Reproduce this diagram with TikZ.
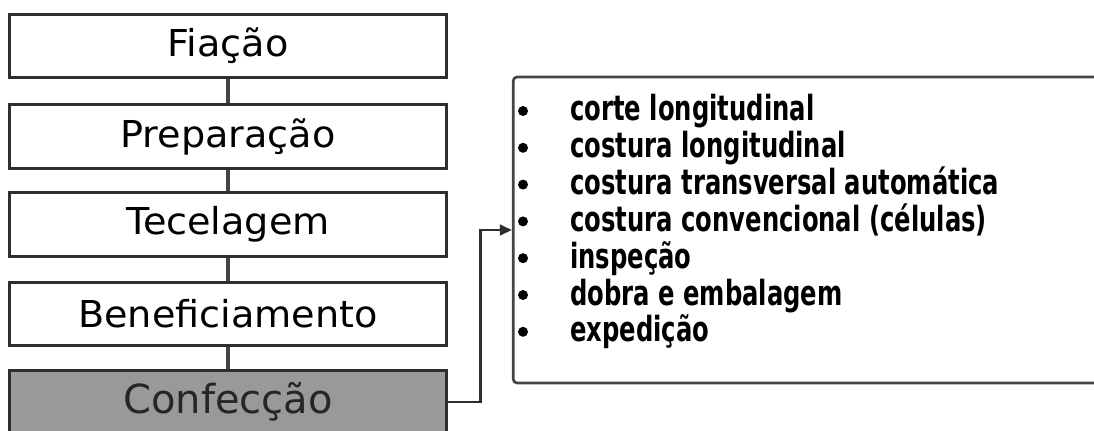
\documentclass[tikz,border=0pt]{standalone}
\usepackage{xcolor}
\usepackage{fontspec}
\usepackage{tikz}
\usetikzlibrary{arrows.meta}

\setmainfont{DejaVu Sans}
\newfontfamily\boxfont[FakeStretch=1.03]{DejaVu Sans}
\newfontfamily\listfont[FakeStretch=0.70]{DejaVu Sans}

\definecolor{edgegray}{HTML}{2E2E2E}
\definecolor{linkgray}{HTML}{444444}
\definecolor{activegray}{HTML}{999999}

\tikzset{
  stage/.style={draw=edgegray, line width=2.3pt, fill=white,
    minimum width=328pt, minimum height=47.5pt, inner sep=0pt,
    font=\boxfont\fontsize{27.8}{33}\selectfont},
  link/.style={draw=linkgray, line width=2.4pt},
  item/.style={anchor=base west, inner sep=0pt,
    font=\listfont\bfseries\fontsize{26}{31}\selectfont},
  dot/.style={circle, fill=black, inner sep=0pt, minimum size=7.5pt}
}

\begin{document}
\begin{tikzpicture}[x=0.75pt, y=-0.75pt]

    % Frame
    \useasboundingbox (0, 0) rectangle (1094, 431);

    % Stages
    \node[stage] (fiacao) at (228, 46) {Fiação};
    \node[stage] (preparacao) at (228, 136.5) {Preparação};
    \node[stage] (tecelagem) at (228, 224.5) {Tecelagem};
    \node[stage] (beneficiamento) at (228, 314) {Beneficiamento};
    \node[stage, fill=activegray, text=black!85,
      font=\fontsize{30}{36}\selectfont] (confeccao) at (228, 402) {Confecção};

    % Links
    \draw[link] (fiacao) -- (preparacao);
    \draw[link] (preparacao) -- (tecelagem);
    \draw[link] (tecelagem) -- (beneficiamento);
    \draw[link] (beneficiamento) -- (confeccao);

    % Steps
    \node[draw=linkgray, line width=2pt, rounded corners=3pt,
      minimum width=455pt, minimum height=229.5pt, inner sep=0pt]
      (etapas) at (816.5, 230) {};

    \draw[edgegray, line width=2.2pt, -{Triangle[length=9pt, width=8pt]}]
      (confeccao.east) -- ++(32, 0) |- (etapas.west);

    \foreach \n/\txt [count=\i from 0] in {a/corte longitudinal,
        b/costura longitudinal, c/costura transversal automática,
        d/costura convencional (células), e/inspeção,
        f/dobra e embalagem, g/expedição} {
      \node[dot] (dot-\n) at (523, 111 + 36.8*\i) {};
      \node[item] (item-\n) at (570, 121 + 36.8*\i) {\txt};
    }

\end{tikzpicture}
\end{document}
